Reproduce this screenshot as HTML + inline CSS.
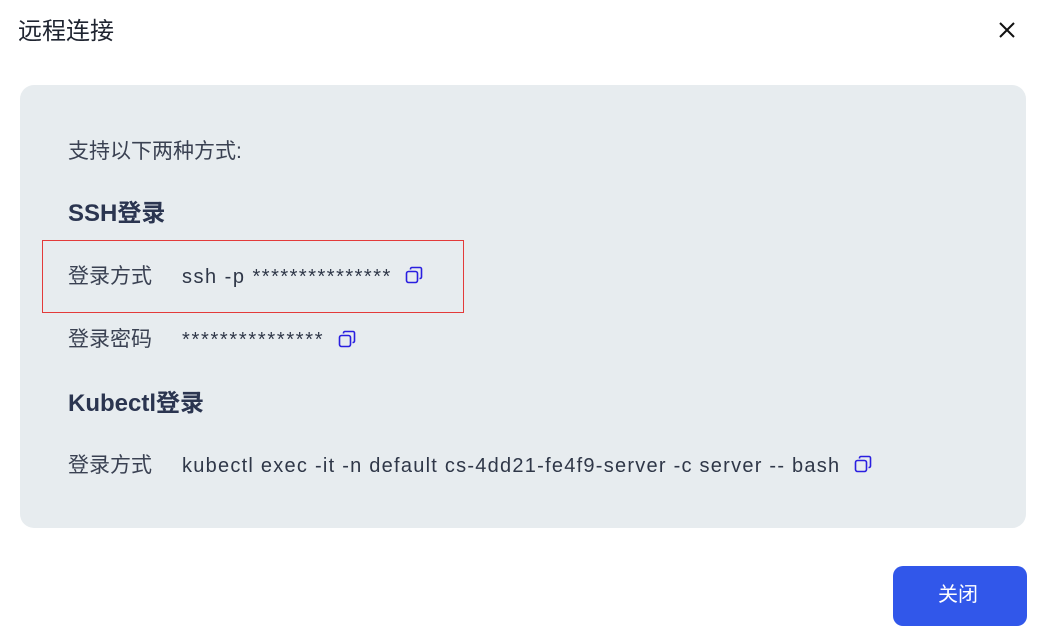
<!DOCTYPE html>
<html><head><meta charset="utf-8"><style>
body{margin:0;width:1039px;height:604px;background:#fff;overflow:hidden;position:relative;font-family:"Liberation Sans","Noto Sans CJK SC",sans-serif;color:#2f3748}
.a{position:absolute;white-space:nowrap;line-height:1}
.panel{position:absolute;left:20px;top:85px;width:1006px;height:443px;background:#e7ecef;border-radius:14px}
.t{font-size:20px}
.h{font-size:24px;font-weight:bold;color:#2b3550}
.lbl{font-size:21px;color:#3a4152}
.ic{position:absolute;width:18px;height:18px}
</style></head><body>
<div class="a" style="left:18px;top:20px;font-size:24px;color:#1f2430">远程连接</div>
<svg class="a" style="left:998px;top:21px" width="18" height="18"><path d="M2 2L16 16M16 2L2 16" stroke="#111" stroke-width="2"/></svg>
<div class="panel"></div>
<div class="a lbl" style="left:68px;top:141px">支持以下两种方式:</div>
<div class="a h" style="left:68px;top:202px">SSH登录</div>
<div style="position:absolute;left:42px;top:240px;width:420px;height:71px;border:1px solid #e33a3a"></div>
<div class="a lbl" style="left:68px;top:266px">登录方式</div>
<div class="a t" style="left:182px;top:267px;letter-spacing:1.5px">ssh -p ***************</div>
<svg class="ic" style="left:405px;top:266px" viewBox="0 0 18 18"><rect x="1.5" y="5.5" width="11" height="11" rx="2" fill="none" stroke="#2a1fe0" stroke-width="1.6"/><path d="M5.5 3.5V3a1.5 1.5 0 0 1 1.5-1.5h8A1.5 1.5 0 0 1 16.5 3v8a1.5 1.5 0 0 1-1.5 1.5h-.5" fill="none" stroke="#2a1fe0" stroke-width="1.6"/></svg>
<div class="a lbl" style="left:68px;top:329px">登录密码</div>
<div class="a t" style="left:182px;top:330px;letter-spacing:1.7px">***************</div>
<svg class="ic" style="left:338px;top:330px" viewBox="0 0 18 18"><rect x="1.5" y="5.5" width="11" height="11" rx="2" fill="none" stroke="#2a1fe0" stroke-width="1.6"/><path d="M5.5 3.5V3a1.5 1.5 0 0 1 1.5-1.5h8A1.5 1.5 0 0 1 16.5 3v8a1.5 1.5 0 0 1-1.5 1.5h-.5" fill="none" stroke="#2a1fe0" stroke-width="1.6"/></svg>
<div class="a h" style="left:68px;top:392px">Kubectl登录</div>
<div class="a lbl" style="left:68px;top:455px">登录方式</div>
<div class="a t" style="left:182px;top:456px;letter-spacing:1.25px">kubectl exec -it -n default cs-4dd21-fe4f9-server -c server -- bash</div>
<svg class="ic" style="left:854px;top:455px" viewBox="0 0 18 18"><rect x="1.5" y="5.5" width="11" height="11" rx="2" fill="none" stroke="#2a1fe0" stroke-width="1.6"/><path d="M5.5 3.5V3a1.5 1.5 0 0 1 1.5-1.5h8A1.5 1.5 0 0 1 16.5 3v8a1.5 1.5 0 0 1-1.5 1.5h-.5" fill="none" stroke="#2a1fe0" stroke-width="1.6"/></svg>
<div style="position:absolute;left:893px;top:566px;width:134px;height:60px;background:#3157ea;border-radius:10px"></div>
<div class="a" style="left:938px;top:585px;font-size:20px;color:#fff">关闭</div>
</body></html>
